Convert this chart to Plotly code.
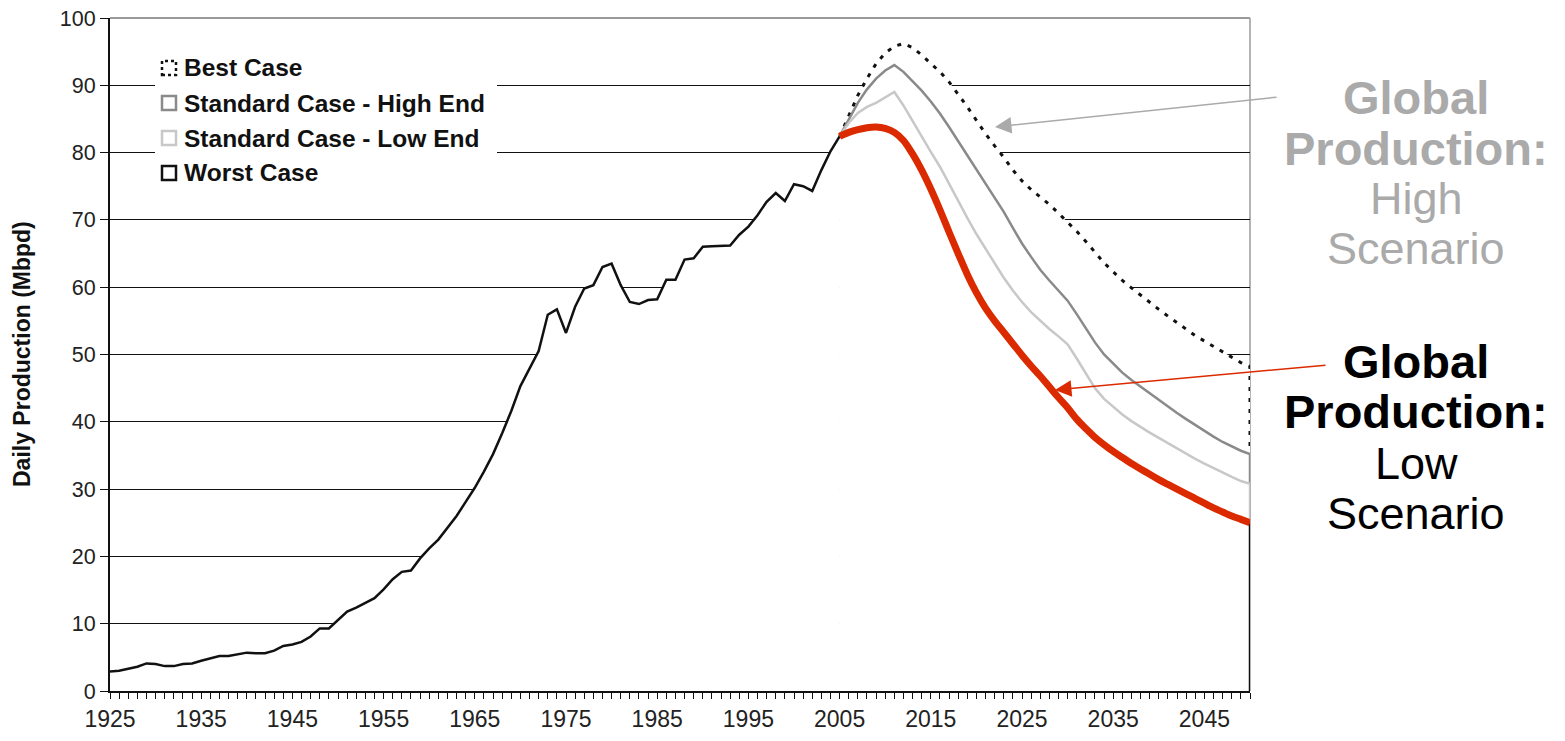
import plotly.graph_objects as go

# ---------------- data ----------------
hist_years = list(range(1925, 2006))
hist_values = [
    2.9, 3.0, 3.3, 3.6, 4.1, 4.0, 3.7, 3.7, 4.0, 4.1,
    4.5, 4.9, 5.2, 5.2, 5.5, 5.7, 5.6, 5.6, 6.0, 6.7,
    6.9, 7.3, 8.1, 9.3, 9.3, 10.5, 11.8, 12.4, 13.1, 13.8,
    15.1, 16.6, 17.7, 17.9, 19.7, 21.2, 22.5, 24.2, 26.0, 28.1,
    30.2, 32.6, 35.2, 38.3, 41.6, 45.3, 47.8, 50.5, 55.9, 56.7,
    53.2, 57.1, 59.8, 60.3, 63.0, 63.5, 60.3, 57.8, 57.5, 58.1,
    58.2, 61.1, 61.1, 64.1, 64.3, 66.0, 66.1, 66.1, 66.2, 67.8,
    69.0, 70.7, 72.7, 74.0, 72.8, 75.3, 75.0, 74.3, 77.4, 80.2,
    82.4,
]

scen_years = list(range(2005, 2051))
best_case = [
    82.4, 85.5, 88.5, 91.0, 93.2, 94.8, 95.8, 96.2, 95.6, 94.5,
    93.3, 92.0, 90.5, 88.7, 86.8, 84.8, 82.8, 81.0, 79.3, 77.4,
    75.8, 74.5, 73.4, 72.3, 71.0, 69.7, 68.3, 66.8, 65.2, 63.6,
    62.3, 61.0, 59.9, 58.8, 57.7, 56.7, 55.7, 54.7, 53.7, 52.8,
    52.0, 51.2, 50.3, 49.6, 48.8, 48.2,
]
high_end = [
    82.4, 85.0, 87.4, 89.4, 91.0, 92.2, 93.0, 92.0, 90.6, 89.2,
    87.6, 85.8, 83.8, 81.7, 79.6, 77.6, 75.5, 73.4, 71.2, 68.8,
    66.5, 64.5, 62.6, 61.0, 59.5, 58.0, 56.0, 53.8, 51.8, 50.0,
    48.6, 47.3, 46.2, 45.2, 44.2, 43.2, 42.2, 41.3, 40.4, 39.5,
    38.6, 37.8, 37.0, 36.3, 35.7, 35.2,
]
low_end = [
    82.4, 84.4, 85.9, 86.8, 87.4, 88.2, 89.0, 87.0, 84.6, 82.4,
    80.1, 77.9, 75.4, 72.8, 70.3, 67.9, 65.7, 63.4, 61.4, 59.5,
    57.8, 56.3, 55.0, 53.8, 52.7, 51.5, 49.4, 47.1, 45.0, 43.4,
    42.2, 41.1, 40.1, 39.2, 38.4, 37.6, 36.8, 36.0, 35.2, 34.5,
    33.8, 33.1, 32.4, 31.8, 31.2, 30.8,
]
worst_case = [
    82.4, 83.0, 83.4, 83.7, 83.8, 83.6, 83.0, 81.8, 79.8, 77.4,
    74.6, 71.5, 68.2, 65.0, 61.9, 59.2, 56.9, 55.0, 53.3, 51.6,
    49.9, 48.3, 46.8, 45.2, 43.6, 42.1, 40.4, 39.0, 37.7, 36.6,
    35.6, 34.7, 33.8, 33.0, 32.2, 31.4, 30.7, 30.0, 29.3, 28.6,
    27.9, 27.2, 26.6, 26.0, 25.5, 25.0,
]

legend_labels = ["Best Case", "Standard Case - High End",
                 "Standard Case - Low End", "Worst Case"]
y_ticks = list(range(0, 101, 10))
x_tick_start, x_tick_step = 1925, 10

# ---------------- figure ----------------
OFF = 8  # page body margin of the html page
W, H = 1565 - OFF, 741 - OFF
ML, MT = 110 - OFF, 18 - OFF
MR = W - (1250 - OFF)
MB = H - (691 - OFF)
PW, PH = W - ML - MR, H - MT - MB


def px_x(px):
    return (px - OFF - ML) / PW


def px_y(py):
    return (MT + PH - (py - OFF)) / PH


fig = go.Figure()

series = [
    (best_case, dict(color="#111111", width=3, dash="4px,7px")),
    (high_end, dict(color="#8a8a8a", width=2.5)),
    (low_end, dict(color="#c8c8c8", width=2.5)),
    (worst_case, dict(color="#111111", width=2.5)),
]
for vals, ln in series:
    xs = scen_years + [scen_years[-1]]
    ys = vals + [0]
    fig.add_trace(go.Scatter(x=xs, y=ys, mode="lines", line=ln,
                             fill="tozeroy", fillcolor="white",
                             showlegend=False, hoverinfo="skip"))

# historical production
fig.add_trace(go.Scatter(x=hist_years, y=hist_values, mode="lines",
                         line=dict(color="#111111", width=2.5),
                         fill="tozeroy", fillcolor="white",
                         showlegend=False, hoverinfo="skip"))

# red highlight of the low scenario
fig.add_trace(go.Scatter(x=scen_years, y=worst_case, mode="lines",
                         line=dict(color="#dc2a00", width=7, shape="spline"),
                         showlegend=False, hoverinfo="skip"))

fnt = "Liberation Sans, Arial, Helvetica, sans-serif"

fig.update_layout(
    width=W, height=H,
    margin=dict(l=ML, r=MR, t=MT, b=MB, autoexpand=False),
    paper_bgcolor="white", plot_bgcolor="white",
    showlegend=False,
    font=dict(family=fnt, color="#222222"),
    xaxis=dict(
        range=[1925, 2050], tick0=x_tick_start, dtick=x_tick_step,
        showgrid=False, zeroline=False,
        showline=True, linecolor="#111111", linewidth=2,
        ticks="outside", ticklen=6, tickwidth=1, tickcolor="#111111",
        minor=dict(dtick=1, ticks="outside", ticklen=6, tickwidth=1,
                   tickcolor="#111111", showgrid=False),
        tickfont=dict(size=23, color="#222222", family=fnt),
        automargin=False, ticklabeloverflow="allow",
    ),
    yaxis=dict(
        range=[0, 100], tickvals=y_ticks,
        showgrid=True, gridcolor="#111111", gridwidth=1,
        zeroline=False,
        showline=True, linecolor="#111111", linewidth=2,
        ticks="outside", ticklen=8, tickwidth=1, tickcolor="#111111",
        tickfont=dict(size=21.5, color="#222222", family=fnt),
        automargin=False, ticklabeloverflow="allow",
    ),
)

shapes = []
# frame (top / right) in gray
shapes.append(dict(type="line", xref="paper", yref="paper", x0=0, x1=1, y0=1, y1=1,
                   line=dict(color="#9a9a9a", width=2), layer="above"))
shapes.append(dict(type="line", xref="paper", yref="paper", x0=1, x1=1, y0=0, y1=1,
                   line=dict(color="#9a9a9a", width=1.5), layer="below"))
# legend box
shapes.append(dict(type="rect", xref="paper", yref="paper",
                   x0=px_x(155), x1=px_x(497), y0=px_y(192), y1=px_y(48),
                   fillcolor="white", line=dict(width=0), layer="above"))
legend_styles = [
    dict(color="#111111", width=2.5, dash="3px,3px"),
    dict(color="#8a8a8a", width=2.5),
    dict(color="#c8c8c8", width=2.5),
    dict(color="#111111", width=2.5),
]
annotations = []
for i, (lab, st) in enumerate(zip(legend_labels, legend_styles)):
    cy = 68 + 35 * i
    shapes.append(dict(type="rect", xref="paper", yref="paper",
                       x0=px_x(162), x1=px_x(176), y0=px_y(cy + 7), y1=px_y(cy - 7),
                       line=st, fillcolor="white", layer="above"))
    annotations.append(dict(xref="paper", yref="paper", x=px_x(182), y=px_y(cy),
                            text=lab, showarrow=False, xanchor="left", yanchor="middle",
                            font=dict(size=24.5, family=fnt, color="#111111", weight="bold")))

# y axis title
annotations.append(dict(xref="paper", yref="paper", x=px_x(22), y=px_y(354),
                        text="Daily Production (Mbpd)", textangle=-90, showarrow=False,
                        xanchor="center", yanchor="middle",
                        font=dict(size=23, family=fnt, color="#111111", weight="bold")))

# right-side scenario labels
hi_col = "#aaaaaa"
for txt, cy, bold, col in [
    ("Global", 97, True, hi_col), ("Production:", 148, True, hi_col),
    ("High", 198, False, hi_col), ("Scenario", 248, False, hi_col),
    ("Global", 361, True, "#000000"), ("Production:", 412, True, "#000000"),
    ("Low", 463, False, "#000000"), ("Scenario", 513, False, "#000000"),
]:
    annotations.append(dict(xref="paper", yref="paper", x=px_x(1416), y=px_y(cy),
                            text=txt, showarrow=False, xanchor="center", yanchor="middle",
                            font=dict(size=47 if bold else 45, family=fnt, color=col,
                                      weight="bold" if bold else "normal")))

# arrows
annotations.append(dict(xref="paper", yref="paper", x=px_x(995), y=px_y(127),
                        ax=283, ay=-30, axref="pixel", ayref="pixel", text="",
                        showarrow=True, arrowhead=2, arrowsize=2.2, arrowwidth=1.5,
                        arrowcolor="#aaaaaa"))
annotations.append(dict(xref="paper", yref="paper", x=px_x(1055), y=px_y(390),
                        ax=272, ay=-25, axref="pixel", ayref="pixel", text="",
                        showarrow=True, arrowhead=2, arrowsize=2.2, arrowwidth=1.5,
                        arrowcolor="#dc2a00"))

fig.update_layout(shapes=shapes, annotations=annotations)

fig.write_html("out.html")
